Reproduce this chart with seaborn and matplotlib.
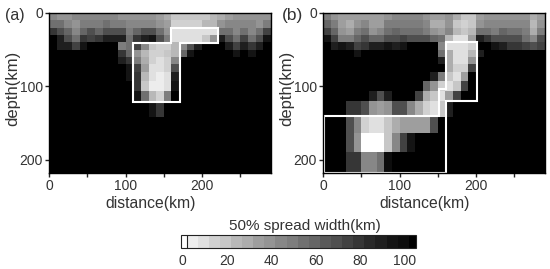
import matplotlib
matplotlib.use('Agg')
import matplotlib.pyplot as plt
from matplotlib.colors import ListedColormap, BoundaryNorm
from matplotlib.transforms import ScaledTranslation
import numpy as np
import seaborn as sns

# bottom edge (km) of every layer, layers get thicker with depth
layer_edges = [0, 10, 20, 30, 40, 50, 60, 70, 80, 92, 106, 120, 143, 165, 191, 220]

# 50% spread width per layer, 29 columns of 10 km
width_a = [
    [40,35,35,40,40,40,40,40,40,35,35,35,35,35,30,25,16,16,16,16,16,20,25,30,35,35,35,35,35],
    [52,52,40,35,47,47,47,52,47,47,40,40,40,40,35,30,12,12,12,12,20,20,35,40,40,40,40,35,47],
    [78,65,58,40,58,65,58,65,65,65,47,58,65,65,52,35,5,5,5,5,5,5,52,52,40,52,40,52,72],
    [100,85,65,52,78,72,78,85,85,85,52,78,85,90,65,47,5,5,5,5,16,35,85,65,52,72,52,65,90],
    [100,85,85,72,90,100,100,100,100,47,52,72,40,16,12,12,20,40,65,85,100,100,100,85,72,85,78,85,100],
    [100,100,100,100,100,100,100,100,100,78,58,35,20,12,12,16,20,58,90,100,100,100,100,100,90,100,90,100,100],
    [100,100,100,100,100,100,100,100,100,85,78,47,25,12,8,12,40,100,100,100,100,100,100,100,100,100,100,100,100],
    [100,100,100,100,100,100,100,100,100,100,90,72,30,8,8,12,65,100,100,100,100,100,100,100,100,100,100,100,100],
    [100,100,100,100,100,100,100,100,100,100,90,78,20,5,3,8,85,100,100,100,100,100,100,100,100,100,100,100,100],
    [100,100,100,100,100,100,100,100,100,100,100,78,16,3,3,8,90,100,100,100,100,100,100,100,100,100,100,100,100],
    [100,100,100,100,100,100,100,100,100,100,100,90,52,20,12,47,100,100,100,100,100,100,100,100,100,100,100,100,100],
    [100,100,100,100,100,100,100,100,100,100,100,100,100,90,78,100,100,100,100,100,100,100,100,100,100,100,100,100,100],
    [100]*29,
    [100]*29,
    [100]*29,
]
width_b = [
    [47,35,30,30,30,30,30,30,35,40,40,40,40,35,30,30,35,25,16,16,30,35,35,35,35,35,35,25,30],
    [58,47,30,25,35,40,30,30,47,47,47,47,47,40,25,25,35,16,12,16,35,40,40,40,40,40,40,20,35],
    [72,58,35,30,47,52,35,40,52,58,52,52,52,47,35,30,40,20,16,20,52,52,47,58,52,52,47,25,47],
    [90,72,47,47,58,65,58,58,65,65,72,65,65,65,58,52,20,8,8,30,85,78,65,65,65,65,52,40,65],
    [100,85,90,85,72,78,85,85,90,85,90,100,100,100,100,40,8,5,5,12,100,100,90,85,78,78,72,65,72],
    [100,100,100,100,90,100,100,100,100,100,100,100,100,100,100,52,25,8,5,20,85,100,100,100,100,100,100,100,100],
    [100,100,100,100,100,100,100,100,100,100,100,100,100,100,100,85,25,8,5,35,100,100,100,100,100,100,100,100,100],
    [100,100,100,100,100,100,100,100,100,100,100,100,100,100,100,100,25,12,12,72,100,100,100,100,100,100,100,100,100],
    [100,100,100,100,100,100,100,100,100,100,100,100,100,100,85,47,16,8,30,100,100,100,100,100,100,100,100,100,100],
    [100,100,100,100,100,100,100,100,100,100,100,100,100,58,35,12,8,16,72,100,100,100,100,100,100,100,100,100,100],
    [100,100,100,100,100,100,85,65,85,100,100,100,72,25,16,8,30,72,100,100,100,100,100,100,100,100,100,100,100],
    [100,100,100,78,78,65,35,30,35,65,65,40,25,12,8,16,85,100,100,100,100,100,100,100,100,100,100,100,100],
    [100,100,100,65,40,12,8,8,16,25,30,30,30,30,65,100,100,100,100,100,100,100,100,100,100,100,100,100,100],
    [100,100,100,65,35,-1,-1,-1,16,40,72,90,100,100,100,100,100,100,100,100,100,100,100,100,100,100,100,100,100],
    [100,100,100,78,78,40,40,52,95,100,100,100,100,100,100,100,100,100,100,100,100,100,100,100,100,100,100,100,100],
]

# white outlines, km
box_a_x = [110, 160, 160, 221, 221, 171, 171, 110, 110]
box_a_y = [41, 41, 20, 20, 41, 41, 121, 121, 41]
box_b_x = [1, 151, 151, 161, 161, 201, 201, 161, 161, 1, 1]
box_b_y = [140, 140, 103, 103, 40, 40, 120, 120, 218, 218, 140]

bin_edges = [-2.5] + list(range(0, 105, 5)) + [103]
bin_grays = [1.0, .93, .88, .82, .78, .72, .68, .62, .58, .53, .49, .44, .40,
             .35, .31, .26, .21, .16, .12, .08, .05, 0.0]

sns.set_style('ticks')
plt.rcParams['font.family'] = ['Liberation Sans', 'DejaVu Sans']
plt.rcParams['text.color'] = '#333333'

W, H = 550, 269
fig = plt.figure(figsize=(5.5, 2.69), dpi=100)


def px_axes(x0, x1, y0, y1):
    return fig.add_axes([x0 / W, 1 - y1 / H, (x1 - x0) / W, (y1 - y0) / H])


cmap = ListedColormap([str(g) for g in bin_grays])
norm = BoundaryNorm(bin_edges, cmap.N)
cax = px_axes(181, 415.5, 235, 248)


def draw_panel(ax, width, box_x, box_y, cbar):
    # stretch layers on a 2 km grid so uneven thickness shows up in heatmap
    reps = np.diff(layer_edges) // 2
    grid = np.repeat(np.array(width), reps, axis=0)
    sns.heatmap(grid, ax=ax, cmap=cmap, norm=norm, cbar=cbar, cbar_ax=cax if cbar else None,
                cbar_kws={'orientation': 'horizontal', 'spacing': 'proportional'} if cbar else None,
                xticklabels=False, yticklabels=False, rasterized=True)
    ax.plot(np.array(box_x) / 10, np.array(box_y) / 2, color='white', lw=1.5, solid_joinstyle='miter', clip_on=False)
    ax.set_xticks([0, 5, 10, 15, 20, 25], ['0', '', '100', '', '200', ''])
    ax.set_yticks([0, 50, 100], ['0', '100', '200'])
    ax.tick_params(length=3, width=1, pad=1.5, color='#222222', labelcolor='#333333', labelsize=10, bottom=True, left=True)
    for s in ax.spines.values():
        s.set_visible(True)
        s.set_color('black')
        s.set_linewidth(1)
    ax.set_xlabel('distance(km)', fontsize=11.3, color='#333333')
    ax.set_ylabel('depth(km)', fontsize=12, color='#333333')
    ax.xaxis.set_label_coords(0.458, -0.145)


ax_a = px_axes(49, 271, 13, 173)
ax_b = px_axes(323, 545, 13, 173)
draw_panel(ax_a, width_a, box_a_x, box_a_y, True)
draw_panel(ax_b, width_b, box_b_x, box_b_y, False)
ax_a.yaxis.set_label_coords(-0.13, 0.53)
ax_b.yaxis.set_label_coords(-0.13, 0.53)

fig.text(5 / W, 1 - 15.5 / H, '(a)', fontsize=11.5, va='center')
fig.text(282 / W, 1 - 15.5 / H, '(b)', fontsize=12.5, va='center')

cbar = ax_a.collections[0].colorbar
cbar.set_ticks(list(range(0, 110, 10)))
cbar.set_ticklabels(['0', '', '20', '', '40', '', '60', '', '80', '', '100'])
cbar.ax.minorticks_off()
cbar.ax.tick_params(axis='x', direction='in', length=9.5, width=0.8, color='#222222', labelcolor='#333333', pad=4.5, labelsize=10)
cbar.outline.set_visible(True)
cbar.outline.set_edgecolor('#222222')
cbar.outline.set_linewidth(0.8)
cax.axvline(0, color='#222222', lw=0.8)
shift = ScaledTranslation(-4 / 100, 0, fig.dpi_scale_trans)
for lab in cax.get_xticklabels():
    lab.set_transform(lab.get_transform() + shift)
fig.text(305 / W, 1 - 226 / H, '50% spread width(km)', fontsize=11, ha='center', va='center')

fig.savefig('out.png', dpi=100)
